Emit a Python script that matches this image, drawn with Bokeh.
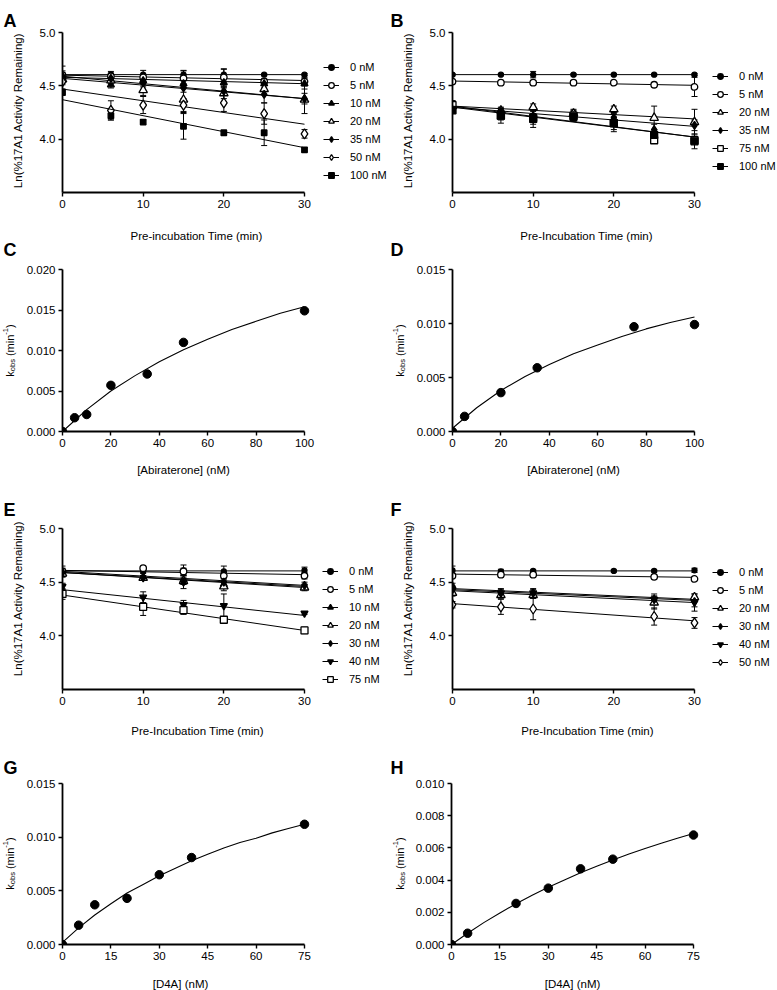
import math
from bokeh.plotting import figure
from bokeh.models import (Range1d, FixedTicker, PrintfTickFormatter, Label, Legend,
                          LegendItem, Whisker, TeeHead, ColumnDataSource)
from bokeh.layouts import column, row
from bokeh.embed import file_html
from bokeh.resources import INLINE

FONT = "Liberation Sans"

# ---------------- data: panel A (abiraterone, time course) ----------------
A_t = [0, 6, 10, 15, 20, 25, 30]
A_0 = [4.605, 4.605, 4.605, 4.605, 4.605, 4.605, 4.605]
A_0_sd = [0.08, 0.03, 0.04, 0.04, 0.05, 0.01, 0.01]
A_0_fit = [4.605, 4.605]
A_5 = [4.60, 4.59, 4.58, 4.57, 4.58, 4.54, 4.54]
A_5_sd = [0.04, 0.03, 0.03, 0.07, 0.08, 0.03, 0.04]
A_5_fit = [4.60, 4.55]
A_10 = [4.58, 4.51, 4.55, 4.52, 4.53, 4.52, 4.52]
A_10_sd = [0.03, 0.03, 0.03, 0.04, 0.04, 0.04, 0.05]
A_10_fit = [4.58, 4.52]
A_20 = [4.56, 4.55, 4.46, 4.37, 4.43, 4.47, 4.37]
A_20_sd = [0.03, 0.03, 0.05, 0.12, 0.05, 0.05, 0.13]
A_20_fit = [4.57, 4.38]
A_35 = [4.59, 4.57, 4.53, 4.48, 4.45, 4.42, 4.38]
A_35_sd = [0.03, 0.03, 0.04, 0.04, 0.04, 0.08, 0.05]
A_35_fit = [4.59, 4.38]
A_50 = [4.54, 4.27, 4.32, 4.32, 4.34, 4.24, 4.05]
A_50_sd = [0.03, 0.09, 0.08, 0.06, 0.08, 0.10, 0.04]
A_50_fit = [4.47, 4.14]
A_100 = [4.44, 4.22, 4.16, 4.12, 4.06, 4.06, 3.90]
A_100_sd = [0.03, 0.04, 0.02, 0.12, 0.02, 0.12, 0.02]
A_100_fit = [4.37, 3.92]

# ---------------- panel B ----------------
B_t = [0, 6, 10, 15, 20, 25, 30]
B_0 = [4.605, 4.605, 4.605, 4.605, 4.605, 4.605, 4.605]
B_0_sd = [0.01, 0.01, 0.03, 0.01, 0.01, 0.01, 0.01]
B_0_fit = [4.605, 4.605]
B_5 = [4.54, 4.53, 4.53, 4.53, 4.53, 4.51, 4.49]
B_5_sd = [0.01, 0.01, 0.02, 0.02, 0.01, 0.01, 0.09]
B_5_fit = [4.545, 4.505]
B_20 = [4.31, 4.27, 4.30, 4.24, 4.28, 4.20, 4.16]
B_20_sd = [0.05, 0.03, 0.03, 0.04, 0.03, 0.11, 0.12]
B_20_fit = [4.31, 4.19]
B_35 = [4.28, 4.26, 4.22, 4.22, 4.20, 4.09, 4.13]
B_35_sd = [0.03, 0.03, 0.04, 0.05, 0.04, 0.05, 0.05]
B_35_fit = [4.30, 4.12]
B_75 = [4.32, 4.22, 4.20, 4.22, 4.15, 3.99, 3.99]
B_75_sd = [0.04, 0.07, 0.09, 0.04, 0.06, 0.03, 0.03]
B_75_fit = [4.30, 4.02]
B_100 = [4.27, 4.22, 4.19, 4.21, 4.15, 4.04, 3.98]
B_100_sd = [0.03, 0.04, 0.05, 0.04, 0.08, 0.05, 0.07]
B_100_fit = [4.31, 4.02]

# ---------------- panel C / D (kobs vs abiraterone) ----------------
C_conc = [0, 5, 10, 20, 35, 50, 100]
C_kobs = [0.0, 0.0017, 0.0021, 0.0057, 0.0071, 0.0110, 0.0149]
C_curve_x = [0, 10, 20, 30, 40, 50, 60, 70, 80, 90, 100]
C_curve_y = [0.0, 0.0027, 0.0050, 0.0069, 0.0086, 0.0101, 0.0114, 0.0126, 0.0136, 0.0146, 0.0154]

D_conc = [0, 5, 20, 35, 75, 100]
D_kobs = [0.0, 0.0014, 0.0036, 0.0059, 0.0097, 0.0099]
D_curve_x = [0, 10, 20, 30, 40, 50, 60, 70, 80, 90, 100]
D_curve_y = [0.0003, 0.0022, 0.0038, 0.0051, 0.0062, 0.0072, 0.0080, 0.0088, 0.0095, 0.0101, 0.0106]

# ---------------- panel E ----------------
E_t = [0, 10, 15, 20, 30]
E_0 = [4.60, 4.60, 4.61, 4.60, 4.61]
E_0_sd = [0.05, 0.02, 0.05, 0.05, 0.03]
E_0_fit = [4.605, 4.605]
E_5 = [4.60, 4.63, 4.60, 4.56, 4.56]
E_5_sd = [0.03, 0.01, 0.03, 0.03, 0.03]
E_5_fit = [4.61, 4.57]
E_10 = [4.58, 4.54, 4.52, 4.48, 4.46]
E_10_sd = [0.03, 0.02, 0.04, 0.03, 0.02]
E_10_fit = [4.59, 4.46]
E_20 = [4.58, 4.54, 4.51, 4.46, 4.45]
E_20_sd = [0.03, 0.02, 0.03, 0.04, 0.03]
E_20_fit = [4.59, 4.45]
E_30 = [4.59, 4.54, 4.50, 4.50, 4.47]
E_30_sd = [0.03, 0.02, 0.06, 0.03, 0.03]
E_30_fit = [4.60, 4.47]
E_40 = [4.46, 4.36, 4.29, 4.28, 4.21]
E_40_sd = [0.03, 0.05, 0.04, 0.11, 0.01]
E_40_fit = [4.43, 4.19]
E_75 = [4.39, 4.27, 4.24, 4.15, 4.05]
E_75_sd = [0.05, 0.08, 0.04, 0.02, 0.03]
E_75_fit = [4.38, 4.05]

# ---------------- panel F ----------------
F_t0 = [0, 6, 10, 20, 25, 30]
F_t = [0, 6, 10, 25, 30]
F_0 = [4.61, 4.60, 4.605, 4.605, 4.605, 4.61]
F_0_sd = [0.04, 0.02, 0.01, 0.01, 0.01, 0.02]
F_0_fit = [4.605, 4.605]
F_5 = [4.56, 4.57, 4.57, 4.55, 4.53]
F_5_sd = [0.01, 0.02, 0.01, 0.02, 0.01]
F_5_fit = [4.575, 4.545]
F_20 = [4.40, 4.38, 4.38, 4.31, 4.36]
F_20_sd = [0.03, 0.03, 0.03, 0.06, 0.03]
F_20_fit = [4.44, 4.34]
F_30 = [4.46, 4.40, 4.40, 4.34, 4.32]
F_30_sd = [0.03, 0.04, 0.04, 0.05, 0.05]
F_30_fit = [4.43, 4.33]
F_40 = [4.43, 4.40, 4.40, 4.34, 4.31]
F_40_sd = [0.03, 0.03, 0.03, 0.03, 0.08]
F_40_fit = [4.42, 4.31]
F_50 = [4.29, 4.27, 4.25, 4.18, 4.12]
F_50_sd = [0.03, 0.07, 0.10, 0.08, 0.05]
F_50_fit = [4.30, 4.14]

# ---------------- panel G / H (kobs vs D4A) ----------------
G_conc = [0, 5, 10, 20, 30, 40, 75]
G_kobs = [0.0, 0.0018, 0.0037, 0.0043, 0.0065, 0.0081, 0.0112]
G_curve_x = [0, 5, 10, 15, 20, 25, 30, 35, 40, 45, 50, 55, 60, 65, 70, 75]
G_curve_y = [0.0002, 0.00155, 0.00275, 0.0038, 0.0048, 0.0056, 0.0064, 0.0071,
             0.0078, 0.0084, 0.0090, 0.0095, 0.0099, 0.0104, 0.0108, 0.0112]

H_conc = [0, 5, 20, 30, 40, 50, 75]
H_kobs = [0.0, 0.0007, 0.00255, 0.0035, 0.0047, 0.0053, 0.0068]
H_curve_x = [0, 5, 10, 15, 20, 25, 30, 35, 40, 45, 50, 55, 60, 65, 70, 75]
H_curve_y = [0.0, 0.0007, 0.00136, 0.00196, 0.00253, 0.00306, 0.00355, 0.00401,
             0.00445, 0.00486, 0.00525, 0.00562, 0.00596, 0.00629, 0.0066, 0.0069]

TIME_TICKS = [0, 10, 20, 30]
LN_TICKS = [4.0, 4.5, 5.0]

# ---------------- marker styles (shape, filled, size) ----------------
ST_DOT = ("circle", True, 5)
ST_OCIRC = ("circle", False, 6.5)
ST_TRI = ("triangle", True, 7)
ST_OTRI = ("triangle", False, 8.5)
ST_DIA = ("diamond", True, 8)
ST_ODIA = ("diamond", False, 10)
ST_SQ = ("square", True, 5.5)
ST_SQ_BIG = ("square", True, 7)
ST_OSQ = ("square", False, 7)
ST_ITRI = ("inverted_triangle", True, 7)

A_series = [("0 nM", A_t, A_0, A_0_sd, A_0_fit, ST_DOT),
            ("5 nM", A_t, A_5, A_5_sd, A_5_fit, ST_OCIRC),
            ("10 nM", A_t, A_10, A_10_sd, A_10_fit, ST_TRI),
            ("20 nM", A_t, A_20, A_20_sd, A_20_fit, ST_OTRI),
            ("35 nM", A_t, A_35, A_35_sd, A_35_fit, ST_DIA),
            ("50 nM", A_t, A_50, A_50_sd, A_50_fit, ST_ODIA),
            ("100 nM", A_t, A_100, A_100_sd, A_100_fit, ST_SQ)]
B_series = [("0 nM", B_t, B_0, B_0_sd, B_0_fit, ST_DOT),
            ("5 nM", B_t, B_5, B_5_sd, B_5_fit, ST_OCIRC),
            ("20 nM", B_t, B_20, B_20_sd, B_20_fit, ST_OTRI),
            ("35 nM", B_t, B_35, B_35_sd, B_35_fit, ST_DIA),
            ("75 nM", B_t, B_75, B_75_sd, B_75_fit, ST_OSQ),
            ("100 nM", B_t, B_100, B_100_sd, B_100_fit, ST_SQ_BIG)]
E_series = [("0 nM", E_t, E_0, E_0_sd, E_0_fit, ST_DOT),
            ("5 nM", E_t, E_5, E_5_sd, E_5_fit, ST_OCIRC),
            ("10 nM", E_t, E_10, E_10_sd, E_10_fit, ST_TRI),
            ("20 nM", E_t, E_20, E_20_sd, E_20_fit, ST_OTRI),
            ("30 nM", E_t, E_30, E_30_sd, E_30_fit, ST_DIA),
            ("40 nM", E_t, E_40, E_40_sd, E_40_fit, ST_ITRI),
            ("75 nM", E_t, E_75, E_75_sd, E_75_fit, ST_OSQ)]
F_series = [("0 nM", F_t0, F_0, F_0_sd, F_0_fit, ST_DOT),
            ("5 nM", F_t, F_5, F_5_sd, F_5_fit, ST_OCIRC),
            ("20 nM", F_t, F_20, F_20_sd, F_20_fit, ST_OTRI),
            ("30 nM", F_t, F_30, F_30_sd, F_30_fit, ST_DIA),
            ("40 nM", F_t, F_40, F_40_sd, F_40_fit, ST_ITRI),
            ("50 nM", F_t, F_50, F_50_sd, F_50_fit, ST_ODIA)]


# ---------------- helpers ----------------
class Ctx:
    """page-pixel -> data conversion for one figure"""
    def __init__(self, fl, fb, xmax, data_px, y0, y1, frame_h):
        self.fl, self.fb = fl, fb
        self.kx = xmax / data_px
        self.y0 = y0
        self.ky = (y1 - y0) / frame_h

    def dx(self, px):
        return (px - self.fl) * self.kx

    def dy(self, py):
        return self.y0 + (self.fb - py) * self.ky


def base_fig(fig_x, fig_y, W, H, fl, ft, fb, rb, xmax, data_px, yr, xticks, yticks, yfmt):
    frame_w = W - (fl - fig_x) - rb
    x_end = xmax * frame_w / data_px
    p = figure(width=W, height=H, x_range=Range1d(0, x_end), y_range=Range1d(yr[0], yr[1]),
               output_backend="svg", toolbar_location=None,
               min_border_left=fl - fig_x, min_border_right=rb,
               min_border_top=ft - fig_y, min_border_bottom=fig_y + H - fb)
    p.title.visible = False
    p.outline_line_color = None
    p.grid.visible = False
    p.background_fill_color = "white"
    p.border_fill_color = "white"
    for ax in (p.xaxis[0], p.yaxis[0]):
        ax.axis_line_width = 1.8
        ax.axis_line_color = "black"
        ax.major_tick_line_width = 1.4
        ax.major_tick_line_color = "black"
        ax.major_tick_out = 4
        ax.major_tick_in = 0
        ax.minor_tick_line_color = None
        ax.major_label_text_font = FONT
        ax.major_label_text_font_size = "11.5px"
        ax.major_label_text_color = "black"
        ax.major_label_standoff = 3
    p.xaxis.bounds = (0, xmax)
    p.xaxis.ticker = FixedTicker(ticks=xticks)
    p.yaxis.ticker = FixedTicker(ticks=yticks)
    p.yaxis.formatter = PrintfTickFormatter(format=yfmt)
    p.xaxis.formatter = PrintfTickFormatter(format="%d")
    return p, Ctx(fl, fb, xmax, data_px, yr[0], yr[1], fb - ft)


def add_text(p, c, side, px, py, text, size="11.5px", align="center", baseline="middle",
             angle=0.0, bold=False):
    p.add_layout(Label(x=c.dx(px), y=c.dy(py), x_units="data", y_units="data",
                       text=text, text_font=FONT, text_font_size=size,
                       text_align=align, text_baseline=baseline, angle=angle,
                       text_font_style="bold" if bold else "normal", text_color="black"),
                 side)


ARIAL_W = {"k": 0.5, "o": 0.556, "b": 0.556, "s": 0.5, "(": 0.333, "m": 0.833,
           "i": 0.222, "n": 0.556, "-": 0.333, "1": 0.556, ")": 0.333}


def kobs_title(p, c, cx, cy):
    main, small = 11.0, 7.5
    pieces = [("k", main, 0.0, 0.0), ("obs", small, 2.8, 0.0), ("(min", main, 0.0, 3.0),
              ("-1", small, -3.8, 0.0), (")", main, 0.0, 0.0)]
    widths = [sum(ARIAL_W[ch] for ch in t) * s for t, s, _, _ in pieces]
    total = sum(widths) + sum(g for _, _, _, g in pieces)
    y = cy + total / 2.0
    for (t, s, dx, gap), w in zip(pieces, widths):
        y -= gap
        add_text(p, c, "right", cx + dx, y, t, size="%.1fpx" % s, align="left",
                 baseline="middle", angle=math.pi / 2)
        y -= w


def time_panel(fig_x, fig_y, W, H, fl, ft, fb, series, leg_x, leg_top):
    p, c = base_fig(fig_x, fig_y, W, H, fl, ft, fb, 0, 30, 242, (3.5, 5.0),
                    TIME_TICKS, LN_TICKS, "%.1f")
    items = []
    for label, t, y, sd, fit, (marker, filled, size) in series:
        lr = p.line([t[0], t[-1]], fit, line_color="black", line_width=1.0)
        src = ColumnDataSource(dict(x=t, lo=[a - b for a, b in zip(y, sd)],
                                    hi=[a + b for a, b in zip(y, sd)]))
        p.add_layout(Whisker(source=src, base="x", upper="hi", lower="lo",
                             line_color="black", line_width=1.0,
                             upper_head=TeeHead(size=6, line_color="black", line_width=1.0),
                             lower_head=TeeHead(size=6, line_color="black", line_width=1.0)))
        sr = p.scatter(t, y, marker=marker, size=size, line_color="black", line_width=1.3,
                       fill_color="black" if filled else "white")
        items.append(LegendItem(label=label, renderers=[lr, sr]))
    n = len(items)
    row_h, sp = 14, 4
    lh = n * row_h + (n - 1) * sp
    leg = Legend(items=items, location=(leg_x - fl, fb - (leg_top + lh)),
                 padding=0, margin=0, spacing=sp, glyph_width=16, glyph_height=row_h,
                 label_height=row_h, label_standoff=11, label_text_font=FONT,
                 label_text_font_size="11px", label_text_baseline="middle",
                 label_text_color="black",
                 border_line_color=None, background_fill_alpha=0)
    p.add_layout(leg)
    return p, c


def kobs_panel(fig_x, fig_y, W, H, fl, ft, fb, xmax, ymax, xticks, yticks,
               conc, kobs, cx, cy):
    p, c = base_fig(fig_x, fig_y, W, H, fl, ft, fb, 70, xmax, 242, (0, ymax),
                    xticks, yticks, "%.3f")
    p.line(cx, cy, line_color="black", line_width=1.1)
    p.scatter(conc, kobs, marker="circle", size=8.5, color="black")
    return p, c


LEFT_X, RIGHT_X = 0, 390
LW, RW = 390, 387
YT = "Ln(%17A1 Activity Remaining)"

# ---------------- row 1 ----------------
R1_Y, R1_H = 0, 259
pA, cA = time_panel(LEFT_X, R1_Y, LW, R1_H, 62, 32, 192, A_series, 323, 59.5)
add_text(pA, cA, "above", 3, 20, "A", size="18px", align="left", baseline="alphabetic", bold=True)
add_text(pA, cA, "left", 3, 249, "C", size="18px", align="left", baseline="alphabetic", bold=True)
add_text(pA, cA, "left", 17, 110, YT, angle=math.pi / 2)
add_text(pA, cA, "below", 196, 235, "Pre-incubation Time (min)")

pB, cB = time_panel(RIGHT_X, R1_Y, RW, R1_H, 452, 32, 192, B_series, 712, 68.5)
add_text(pB, cB, "above", 390, 20, "B", size="18px", align="left", baseline="alphabetic", bold=True)
add_text(pB, cB, "left", 390, 249, "D", size="18px", align="left", baseline="alphabetic", bold=True)
add_text(pB, cB, "left", 407, 110, YT, angle=math.pi / 2)
add_text(pB, cB, "below", 586, 235, "Pre-Incubation Time (min)")

# ---------------- row 2 ----------------
R2_Y, R2_H = 259, 231
pC, cC = kobs_panel(LEFT_X, R2_Y, LW, R2_H, 62, 269, 431, 100, 0.020,
                    [0, 20, 40, 60, 80, 100], [0, 0.005, 0.010, 0.015, 0.020],
                    C_conc, C_kobs, C_curve_x, C_curve_y)
kobs_title(pC, cC, 9, 350)
add_text(pC, cC, "below", 183, 469, "[Abiraterone] (nM)")

pD, cD = kobs_panel(RIGHT_X, R2_Y, RW, R2_H, 452, 269, 431, 100, 0.015,
                    [0, 20, 40, 60, 80, 100], [0, 0.005, 0.010, 0.015],
                    D_conc, D_kobs, D_curve_x, D_curve_y)
kobs_title(pD, cD, 399, 350)
add_text(pD, cD, "below", 573, 469, "[Abiraterone] (nM)")

# ---------------- row 3 ----------------
R3_Y, R3_H = 490, 255
pE, cE = time_panel(LEFT_X, R3_Y, LW, R3_H, 62, 528, 689, E_series, 322, 563.8)
add_text(pE, cE, "above", 3, 509, "E", size="18px", align="left", baseline="alphabetic", bold=True)
add_text(pE, cE, "left", 17, 598, YT, angle=math.pi / 2)
add_text(pE, cE, "below", 197, 730, "Pre-Incubation Time (min)")

pF, cF = time_panel(RIGHT_X, R3_Y, RW, R3_H, 452, 528, 689, F_series, 712, 565)
add_text(pF, cF, "above", 390, 509, "F", size="18px", align="left", baseline="alphabetic", bold=True)
add_text(pF, cF, "left", 407, 598, YT, angle=math.pi / 2)
add_text(pF, cF, "below", 587, 730, "Pre-Incubation Time (min)")

# ---------------- row 4 ----------------
R4_Y, R4_H = 745, 245
pG, cG = kobs_panel(LEFT_X, R4_Y, LW, R4_H, 62, 783, 944, 75, 0.015,
                    [0, 15, 30, 45, 60, 75], [0, 0.005, 0.010, 0.015],
                    G_conc, G_kobs, G_curve_x, G_curve_y)
add_text(pG, cG, "above", 3, 767, "G", size="18px", align="left", baseline="alphabetic", bold=True)
kobs_title(pG, cG, 9, 863)
add_text(pG, cG, "below", 180, 983, "[D4A] (nM)")

pH, cH = kobs_panel(RIGHT_X, R4_Y, RW, R4_H, 451, 783, 944, 75, 0.010,
                    [0, 15, 30, 45, 60, 75], [0, 0.002, 0.004, 0.006, 0.008, 0.010],
                    H_conc, H_kobs, H_curve_x, H_curve_y)
add_text(pH, cH, "above", 390, 767, "H", size="18px", align="left", baseline="alphabetic", bold=True)
kobs_title(pH, cH, 399, 863)
add_text(pH, cH, "below", 572, 983, "[D4A] (nM)")

layout = column(row(pA, pB), row(pC, pD), row(pE, pF), row(pG, pH))
open("out.html", "w").write(file_html(layout, INLINE))
